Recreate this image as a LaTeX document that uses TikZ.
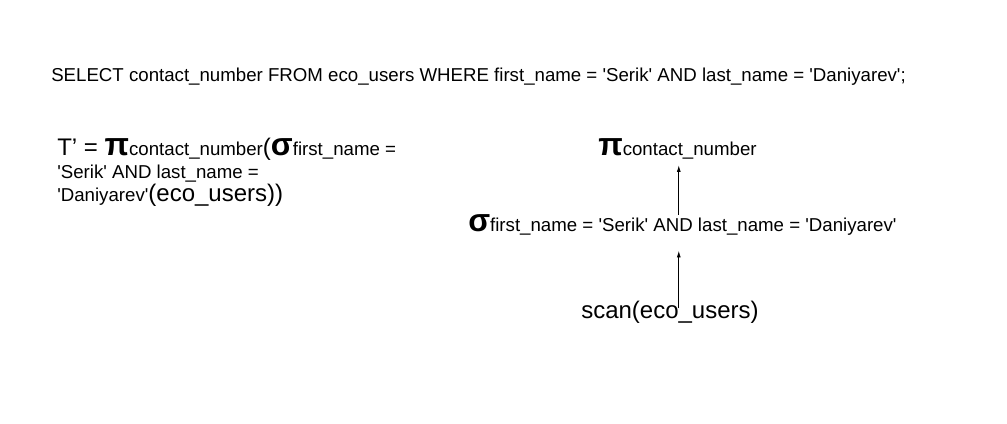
\documentclass[tikz,border=0pt]{standalone}
\usepackage{fontspec}
\setmainfont{Liberation Sans}
\usetikzlibrary{arrows.meta}

\newcommand\qsmall{\fontsize{14}{16}\selectfont}
\newcommand\qlarge{\fontsize{18}{21}\selectfont}
\newcommand\qop[1]{{\fontsize{24}{26}\selectfont\bfseries #1}}
\newcommand\sq{\textquotesingle}

\tikzset{
  txt/.style={anchor=base west, inner sep=0pt},
  arr/.style={-{Latex[length=5pt,width=3pt]}, line width=0.6pt}
}

\begin{document}
\begin{tikzpicture}[x=0.75pt, y=-0.75pt]
  % Page
  \useasboundingbox (0,0) rectangle (1007,424);

  % Query
  \node[txt, font=\qsmall] (sql) at (51,82)
    {SELECT contact\_number FROM eco\_users WHERE first\_name = \sq Serik\sq{} AND last\_name = \sq Daniyarev\sq;};

  % Relational algebra
  \node[txt, font=\qsmall] (ra1) at (57,156)
    {{\qlarge T’ = }\qop{π}contact\_number{\qlarge(}\qop{σ}first\_name =};
  \node[txt, font=\qsmall] (ra2) at (57,179) {\sq Serik\sq{} AND last\_name =};
  \node[txt, font=\qsmall] (ra3) at (57,202) {\sq Daniyarev\sq{\qlarge(eco\_users))}};

  % Query tree
  \node[txt, font=\qsmall] (proj) at (598,156) {\qop{π}contact\_number};
  \node[txt, font=\qsmall] (sel) at (468,232)
    {\qop{σ}first\_name = \sq Serik\sq{} AND last\_name = \sq Daniyarev\sq};
  \node[txt, font=\qlarge] (scan) at (581,318) {scan(eco\_users)};

  \draw[arr] ([xshift=1pt]sel.north -| proj.south) -- ([xshift=1pt,yshift=-4pt]proj.south);
  \draw[arr] ([xshift=1pt,yshift=-6pt]scan.north -| proj.south) -- ([xshift=1pt,yshift=-11pt]sel.south -| proj.south);
\end{tikzpicture}
\end{document}
